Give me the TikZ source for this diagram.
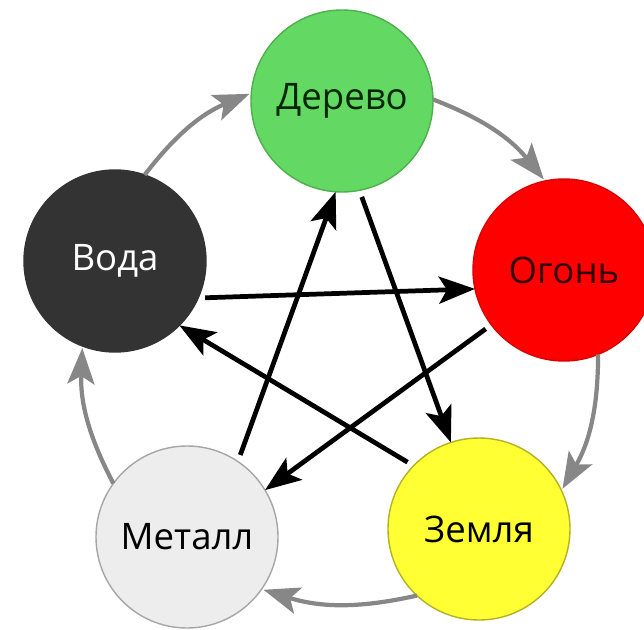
\documentclass[tikz,border=0pt]{standalone}
\usepackage{fontspec}
\setmainfont{Open Sans}
\usetikzlibrary{arrows.meta}

\definecolor{woodgreen}{RGB}{99,217,99}
\definecolor{firered}{RGB}{255,0,0}
\definecolor{earthyellow}{RGB}{255,255,51}
\definecolor{metalgray}{RGB}{237,237,237}
\definecolor{waterdark}{RGB}{51,51,51}
\definecolor{cyclegray}{RGB}{135,135,135}

\begin{document}
\begin{tikzpicture}[
	element/.style={circle, minimum size=1.82cm, inner sep=0pt, outer sep=0pt, line width=0.4pt, font=\fontsize{10.4}{12}\selectfont},
	feed/.style={draw=cyclegray, line width=1.2pt, shorten >=0.02cm, -{Stealth[length=0.36cm, width=0.27cm, inset=0.08cm]}},
	beat/.style={draw=black, line width=1.35pt, shorten <=0.07cm, -{Stealth[length=0.36cm, width=0.27cm, inset=0.08cm]}}]
	\useasboundingbox (0,0) rectangle (6.44,6.29);

	\node[element, fill=woodgreen, draw=woodgreen!80!black, text=black!85!green] (wood) at (3.42,5.28) {Дерево};
	\node[element, fill=firered, draw=firered!85!black, text=black!80!red] (fire) at (5.64,3.59) {Огонь};
	\node[element, fill=earthyellow, draw=earthyellow!70!black] (earth) at (4.79,1.00) {Земля};
	\node[element, fill=metalgray, draw=black!35] (metal) at (1.87,0.92) {Металл};
	\node[element, fill=waterdark, draw=waterdark, text=white] (water) at (1.15,3.68) {Вода};

	% outer cycle
	\draw[feed] (water.71) to[bend left=15] (wood.175);
	\draw[feed] (wood.1) to[bend left=15] (fire.102);
	\draw[feed] (fire.-68) to[bend left=15] (earth.25);
	\draw[feed] (earth.227) to[bend left=15] (metal.-35);
	\draw[feed] (metal.144) to[bend left=15] (water.-111);

	% star
	\draw[beat] (water.-24) -- (fire.192);
	\draw[beat] (fire.217) -- (metal.31);
	\draw[beat] (metal.56) -- (wood.-94);
	\draw[beat] (wood.-79) -- (earth.108);
	\draw[beat] (earth.136) -- (water.-45);
\end{tikzpicture}
\end{document}
